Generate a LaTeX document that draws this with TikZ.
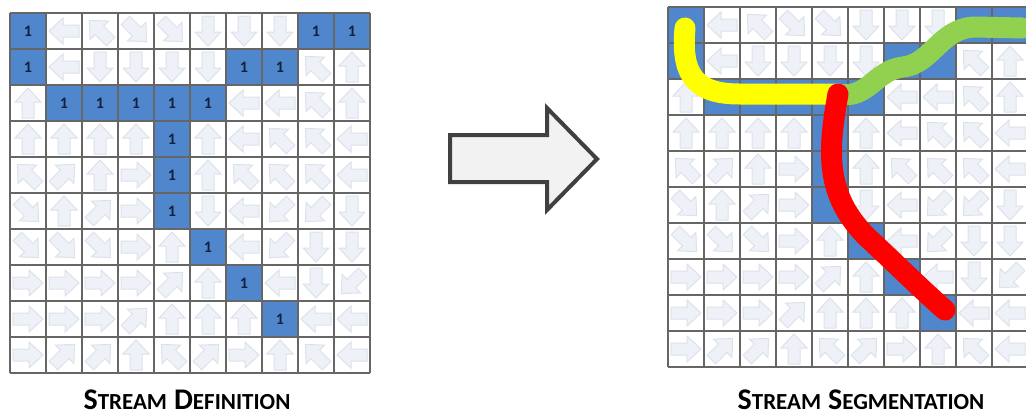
\documentclass[tikz,border=0pt]{standalone}
\usepackage{fontspec}
\setmainfont{Carlito}
\usetikzlibrary{positioning}
\definecolor{CellBlue}{HTML}{4F86CC}
\definecolor{GridGray}{HTML}{666666}
\definecolor{ArrowFill}{HTML}{EEF1F7}
\definecolor{ArrowLine}{HTML}{DCE1EB}
\definecolor{DigitInk}{HTML}{14213D}
\definecolor{BigArrowInk}{HTML}{404040}
\definecolor{BigArrowFill}{HTML}{F2F2F2}
\definecolor{StreamYellow}{HTML}{FFFF00}
\definecolor{StreamGreen}{HTML}{92D050}
\definecolor{StreamRed}{HTML}{FF0000}
\tikzset{
  gridline/.style={draw=GridGray,line width=1.3pt},
  bluecell/.style={fill=CellBlue,draw=none,minimum size=36pt,inner sep=0pt,
    font=\fontsize{16}{16}\selectfont\bfseries,text=DigitInk},
  flowarrow/.pic={
    \path[fill=ArrowFill,draw=ArrowLine,line width=1pt]
      (-15,-6) -- (1,-6) -- (1,-13) -- (15,0) -- (1,13) -- (1,6) -- (-15,6) -- cycle;},
  streamline/.style={line width=21pt,line cap=round,line join=round},
  bigarrow/.style={draw=BigArrowInk,fill=BigArrowFill,line width=4pt,line join=miter},
  caption/.style={font=\bfseries,inner sep=0pt,text=black,anchor=base}
}
\newcommand{\capword}[2]{{\fontsize{30}{30}\selectfont #1}{\fontsize{23}{23}\selectfont #2}}
\newcommand{\flowgrid}[2]{%
  \foreach \row [count=\r from 0] in {
      {999,180,135,315,315,270,270,270,999,999},
      {999,180,270,270,270,270,999,999,135,90},
      {90,999,999,999,999,999,180,180,135,90},
      {90,90,90,90,999,90,180,135,135,180},
      {135,45,90,0,999,90,135,135,135,180},
      {315,90,45,0,999,270,180,225,225,270},
      {315,315,315,0,90,999,180,225,270,270},
      {0,0,0,0,45,90,999,180,270,225},
      {0,0,0,45,90,90,90,999,180,180},
      {0,45,45,90,135,45,0,90,135,180}}{
    \foreach \a [count=\c from 0] in \row {
      \ifnum\a=999
        \node[bluecell] (#1-\r-\c) at (\c*36+18,\r*36+18) {#2};
      \else
        \pic[rotate=\a] at (\c*36+18,\r*36+18) {flowarrow};
      \fi
    }
  }
  \foreach \i in {0,...,10} {
    \draw[gridline] (\i*36,0) -- (\i*36,360);
    \draw[gridline] (0,\i*36) -- (360,\i*36);
  }
}

\begin{document}
\begin{tikzpicture}[x=1pt,y=-1pt]
  \useasboundingbox[fill=white] (0,0) rectangle (1026,416);

  \begin{scope}[shift={(10,13)}]
    \flowgrid{def}{1}
  \end{scope}
  \node[caption] (deflabel) at (187,409) {\capword{S}{TREAM}\hspace{7pt}\capword{D}{EFINITION}};

  \draw[bigarrow] (450,135) -- (547,135) -- (547,108) -- (597,159)
    -- (547,210) -- (547,182) -- (450,182) -- cycle;

  \begin{scope}[shift={(668,7)}]
    \flowgrid{seg}{}
  \end{scope}
  \node[caption] (seglabel) at (861,409) {\capword{S}{TREAM}\hspace{7pt}\capword{S}{EGMENTATION}};

  \coordinate (junction) at (838,94);
  \draw[streamline,StreamYellow] (685,28) .. controls (680,80) and (700,94) .. (740,94) -- (junction);
  \draw[streamline,StreamGreen] (junction) .. controls (868,100) and (875,70) .. (903,67)
    .. controls (932,64) and (940,28) .. (975,27) -- (1022,28);
  \draw[streamline,StreamRed] (junction) .. controls (828,150) and (824,195) .. (868,238)
    .. controls (895,263) and (920,288) .. (945,310);
\end{tikzpicture}
\end{document}
